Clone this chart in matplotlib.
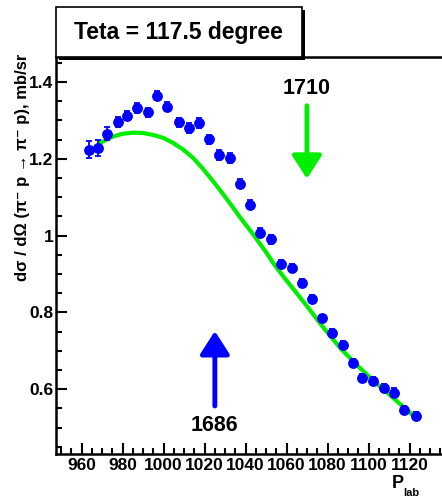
import numpy as np
import matplotlib
matplotlib.use('Agg')
import matplotlib.pyplot as plt
from matplotlib.patches import Rectangle, FancyArrowPatch
from matplotlib.ticker import MultipleLocator, FuncFormatter

plt.rcParams['font.family'] = ['Liberation Sans', 'DejaVu Sans']
plt.rcParams['font.weight'] = 'bold'

# measured points (P_lab, dsigma/dOmega, error)
p_lab = [963.7, 968.1, 972.5, 977.6, 982.0, 986.8, 992.2, 996.9, 1001.8, 1007.5,
         1012.4, 1017.1, 1022.2, 1027.1, 1032.2, 1037.2, 1042.0, 1047.0, 1052.2,
         1057.2, 1062.4, 1067.3, 1072.2, 1077.2, 1082.2, 1087.5, 1092.2, 1096.6,
         1102.0, 1107.5, 1112.3, 1117.2, 1123.0]
xsec = [1.223, 1.228, 1.265, 1.295, 1.312, 1.332, 1.321, 1.364, 1.336, 1.295,
        1.280, 1.293, 1.251, 1.210, 1.202, 1.135, 1.080, 1.007, 0.990,
        0.925, 0.916, 0.877, 0.836, 0.784, 0.747, 0.715, 0.669, 0.630,
        0.622, 0.604, 0.591, 0.545, 0.531]
xsec_err = [0.022, 0.020, 0.017, 0.013, 0.012, 0.012, 0.012, 0.012, 0.012, 0.012,
            0.012, 0.012, 0.012, 0.012, 0.012, 0.012, 0.012, 0.012, 0.012,
            0.010, 0.010, 0.010, 0.010, 0.010, 0.010, 0.010, 0.010, 0.010,
            0.010, 0.010, 0.012, 0.010, 0.010]

# fit curve
fit_x = [963.7, 968.9, 975.4, 980.0, 985.2, 990.0, 994.9, 1000.0, 1004.7, 1009.5,
         1014.4, 1019.0, 1024.2, 1029.0, 1034.0, 1037.2, 1043.7, 1050.2, 1053.5,
         1058.3, 1064.0, 1069.8, 1078.0, 1086.0, 1094.0, 1102.3, 1112.0, 1122.6]
fit_y = [1.218, 1.241, 1.258, 1.265, 1.268, 1.267, 1.262, 1.254, 1.241, 1.224,
         1.202, 1.175, 1.141, 1.108, 1.072, 1.048, 1.003, 0.955, 0.928,
         0.894, 0.856, 0.817, 0.760, 0.708, 0.664, 0.622, 0.577, 0.527]

W, H = 442, 498
fig = plt.figure(figsize=(W / 100, H / 100), dpi=100)
ax = fig.add_axes([56 / W, 1 - 454 / H, (442 - 56) / W, (454 - 57) / H])

ax.plot(fit_x, fit_y, color='#00ee00', lw=3, zorder=2)
ax.errorbar(p_lab, xsec, yerr=xsec_err, fmt='o', color='#0000ff', ms=6.8,
            elinewidth=1.3, capsize=2.5, capthick=1.3, zorder=3)

ax.set_xlim(947.5, 1135.8)
ax.set_ylim(0.431, 1.465)

ax.xaxis.set_major_locator(MultipleLocator(20))
ax.xaxis.set_minor_locator(MultipleLocator(5))
ax.yaxis.set_major_locator(MultipleLocator(0.2))
ax.yaxis.set_minor_locator(MultipleLocator(0.05))
ax.yaxis.set_major_formatter(FuncFormatter(lambda v, p: '%g' % round(v, 2)))
ax.tick_params(which='major', direction='in', length=8, width=1.5, labelsize=12.5, pad=3)
ax.tick_params(which='minor', direction='in', length=4, width=1.5)
ax.tick_params(axis='y', pad=2)
for lab in ax.get_xticklabels() + ax.get_yticklabels():
    lab.set_fontweight('bold')

ax.spines['right'].set_visible(False)
for s in ['left', 'bottom', 'top']:
    ax.spines[s].set_linewidth(1.8)

# arrows
ax.add_patch(FancyArrowPatch((1069.9, 1.338), (1069.9, 1.148),
                             arrowstyle='-|>,head_length=14,head_width=9',
                             mutation_scale=1, color='#00ee00', lw=3.5,
                             shrinkA=0, shrinkB=0))
ax.add_patch(FancyArrowPatch((1025.0, 0.556), (1025.0, 0.751),
                             arrowstyle='-|>,head_length=14,head_width=9',
                             mutation_scale=1, color='#0000ff', lw=3.5,
                             shrinkA=0, shrinkB=0))
ax.text(1069.9, 1.384, '1710', ha='center', va='center', fontsize=15.5, fontweight='bold')
ax.text(1025.0, 0.504, '1686', ha='center', va='center', fontsize=15.5, fontweight='bold')

# axis labels
fig.text(23 / W, 1 - 54 / H, 'dσ / dΩ (π⁻ p → π⁻ p), mb/sr', rotation=90,
         ha='center', va='top', fontsize=12, fontweight='bold')
fig.text(398 / W, 1 - 483 / H, 'P', ha='center', va='center', fontsize=13, fontweight='bold')
fig.text(411 / W, 1 - 493 / H, 'lab', ha='center', va='center', fontsize=8, fontweight='bold')

# title box with shadow
fig.patches.append(Rectangle((59 / W, 1 - 60 / H), (302 - 56) / W, 50 / H,
                             transform=fig.transFigure, facecolor='black',
                             edgecolor='black', lw=0))
fig.patches.append(Rectangle((56 / W, 1 - 57 / H), (302 - 56) / W, 50 / H,
                             transform=fig.transFigure, facecolor='white',
                             edgecolor='black', lw=1.2))
fig.text(178 / W, 1 - 32 / H, 'Teta = 117.5 degree', ha='center', va='center',
         fontsize=16.5, fontweight='bold')

fig.savefig('out.png', dpi=100)
